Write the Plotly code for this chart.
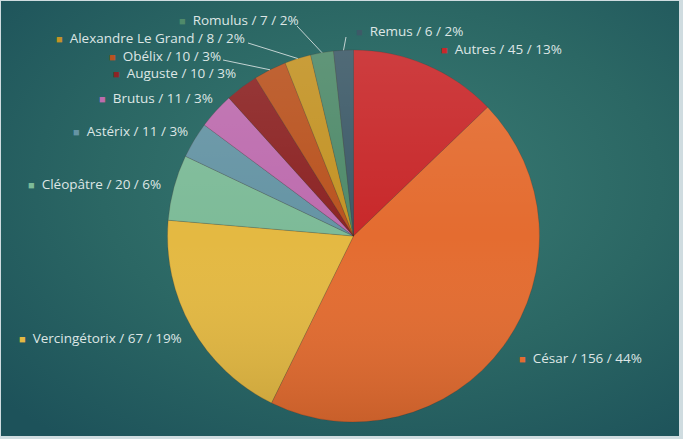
import base64
import math
import plotly.graph_objects as go

# ---------------- data ----------------
labels = ["Autres", "César", "Vercingétorix", "Cléopâtre", "Astérix", "Brutus",
          "Auguste", "Obélix", "Alexandre Le Grand", "Romulus", "Remus"]
values = [45, 156, 67, 20, 11, 11, 10, 10, 8, 7, 6]
colors = ["#c8282a", "#e46c30", "#e4b942", "#7dbb98", "#6594a4", "#bd6cae",
          "#8c2424", "#b9531f", "#c39325", "#4f8a6a", "#3d5a68"]

# label anchor positions (pixels, left edge / vertical centre)
label_px = [(440, 49), (518, 358), (18, 338), (27, 184), (72, 131), (98, 98),
            (112, 73), (108, 56), (55, 38), (178, 20), (355, 31)]
# leader line end points (pixels) for the slices that have one
leader_end = {"Obélix": (223, 60), "Alexandre Le Grand": (248, 43),
              "Romulus": (297, 26), "Remus": (346, 37)}

W, H = 683, 439
CX, CY, R = 353.5, 236.0, 186.0

total = sum(values)

def px2paper(x, y):
    return x / W, 1 - y / H

fig = go.Figure()

dx0, dy0 = px2paper(CX - R, CY + R)
dx1, dy1 = px2paper(CX + R, CY - R)

fig.add_trace(go.Pie(
    labels=labels, values=values, sort=False, direction="clockwise", rotation=0,
    marker=dict(colors=colors, line=dict(color="rgba(70,30,20,0.3)", width=0.6)),
    textinfo="none", hoverinfo="label+value+percent", showlegend=False,
    domain=dict(x=[dx0, dx1], y=[dy0, dy1]),
))

# background gradient
bg_svg = f"""<svg xmlns='http://www.w3.org/2000/svg' width='{W}' height='{H}' preserveAspectRatio='none' viewBox='0 0 {W} {H}'>
<defs><radialGradient id='g' cx='0.56' cy='0.42' r='0.75' gradientUnits='objectBoundingBox'>
<stop offset='0' stop-color='#3a7c74'/><stop offset='0.55' stop-color='#2b6764'/>
<stop offset='1' stop-color='#1d525a'/></radialGradient></defs>
<rect width='{W}' height='{H}' fill='url(#g)'/></svg>"""
bg_uri = "data:image/svg+xml;base64," + base64.b64encode(bg_svg.encode()).decode()

# subtle shading over pie
sh_svg = """<svg xmlns='http://www.w3.org/2000/svg' width='200' height='200' viewBox='0 0 200 200'>
<defs><linearGradient id='s' x1='0' y1='0' x2='0' y2='1'>
<stop offset='0' stop-color='#ffffff' stop-opacity='0.10'/>
<stop offset='0.5' stop-color='#ffffff' stop-opacity='0'/>
<stop offset='1' stop-color='#000000' stop-opacity='0.12'/></linearGradient></defs>
<circle cx='100' cy='100' r='100' fill='url(#s)'/></svg>"""
sh_uri = "data:image/svg+xml;base64," + base64.b64encode(sh_svg.encode()).decode()

bx0, by0 = px2paper(1, 1)
bx1, by1 = px2paper(679, 436)

images = [
    dict(source=bg_uri, xref="paper", yref="paper", x=bx0, y=by0,
         sizex=bx1 - bx0, sizey=by0 - by1, xanchor="left", yanchor="top",
         sizing="stretch", layer="below"),
    dict(source=sh_uri, xref="paper", yref="paper", x=dx0, y=dy1,
         sizex=dx1 - dx0, sizey=dy1 - dy0, xanchor="left", yanchor="top",
         sizing="stretch", layer="above", opacity=1),
]

annotations = []
for lab, v, c, (lx, ly) in zip(labels, values, colors, label_px):
    pct = round(100 * v / total)
    txt = (f"<span style='color:{c};font-size:11px'>■</span>\u00a0 "
           f"{lab} / {v} / {pct}%")
    ax, ay = px2paper(lx, ly)
    annotations.append(dict(x=ax, y=ay, xref="paper", yref="paper", text=txt,
                            showarrow=False, xanchor="left", yanchor="middle",
                            borderpad=0,
                            font=dict(family="'Open Sans', Lato, sans-serif",
                                      size=13.5, color="#dde6e5")))

shapes = []
cum = 0
for lab, v in zip(labels, values):
    mid = (cum + v / 2) / total * 2 * math.pi
    cum += v
    if lab in leader_end:
        sx = CX + R * math.sin(mid)
        sy = CY - R * math.cos(mid)
        ex, ey = leader_end[lab]
        x0, y0 = px2paper(sx, sy)
        x1, y1 = px2paper(ex, ey)
        shapes.append(dict(type="line", xref="paper", yref="paper",
                           x0=x0, y0=y0, x1=x1, y1=y1,
                           line=dict(color="#c3d3d2", width=1)))

fig.update_layout(
    width=W, height=H, margin=dict(l=0, r=0, t=0, b=0),
    paper_bgcolor="#cfdce0", plot_bgcolor="rgba(0,0,0,0)",
    images=images, annotations=annotations, shapes=shapes,
)

fig.write_html("out.html")
